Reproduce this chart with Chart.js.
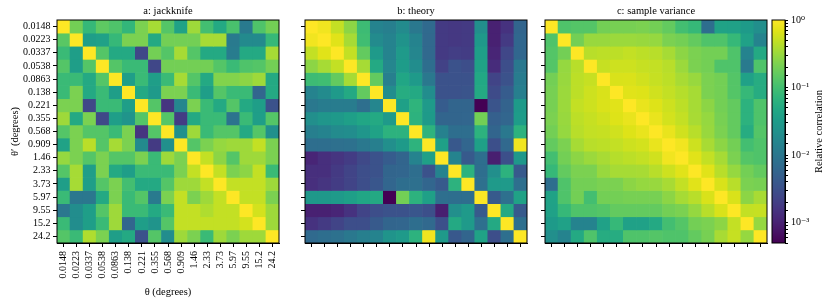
<!DOCTYPE html>
<html>
<head>
<meta charset="utf-8">
<script src="https://cdn.jsdelivr.net/npm/chart.js@4.4.0/dist/chart.umd.min.js"></script>
<style>
    body { margin: 0; background: #fff; }
    #wrap { position: relative; width: 831px; height: 299px; overflow: hidden; }
    #wrap canvas { position: absolute; top: 0; }
</style>
</head>
<body>
<div id="wrap">
    <canvas id="jackknifeChart" width="290" height="299" style="left:0px"></canvas>
    <canvas id="theoryChart" width="250" height="299" style="left:290px"></canvas>
    <canvas id="sampleChart" width="232" height="299" style="left:540px"></canvas>
    <canvas id="colorbarChart" width="64" height="299" style="left:767px"></canvas>
</div>
<script>
// angular bins, used for both axes
const thetaLabels = ['0.0148', '0.0223', '0.0337', '0.0538', '0.0863', '0.138', '0.221', '0.355', '0.568',
    '0.909', '1.46', '2.33', '3.73', '5.97', '9.55', '15.2', '24.2'];

// relative correlation, row = theta' (top to bottom), column = theta
const jackknifeValues = [
    [1, 0.2, 0.08, 0.15, 0.12, 0.075, 0.22, 0.36, 0.13, 0.04, 0.33, 0.1, 0.05, 0.11, 0.011, 0.12, 0.2],
    [0.14, 1, 0.035, 0.038, 0.08, 0.22, 0.22, 0.05, 0.2, 0.2, 0.2, 0.36, 0.36, 0.011, 0.018, 0.018, 0.08],
    [0.085, 0.035, 1, 0.13, 0.05, 0.05, 0.0025, 0.2, 0.13, 0.36, 0.13, 0.05, 0.05, 0.012, 0.05, 0.05, 0.36],
    [0.13, 0.035, 0.13, 1, 0.13, 0.085, 0.085, 0.0025, 0.2, 0.2, 0.2, 0.2, 0.13, 0.085, 0.12, 0.13, 0.2],
    [0.085, 0.085, 0.05, 0.13, 1, 0.035, 0.085, 0.035, 0.085, 0.36, 0.13, 0.05, 0.24, 0.24, 0.27, 0.33, 0.05],
    [0.085, 0.22, 0.05, 0.085, 0.035, 1, 0.05, 0.03, 0.22, 0.22, 0.085, 0.035, 0.13, 0.085, 0.085, 0.006, 0.05],
    [0.22, 0.22, 0.0025, 0.085, 0.085, 0.035, 1, 0.13, 0.0016, 0.016, 0.22, 0.085, 0.05, 0.13, 0.05, 0.035, 0.0033],
    [0.33, 0.05, 0.22, 0.0026, 0.035, 0.025, 0.13, 1, 0.13, 0.0019, 0.05, 0.085, 0.085, 0.009, 0.085, 0.035, 0.13],
    [0.13, 0.22, 0.13, 0.13, 0.085, 0.22, 0.0016, 0.13, 1, 0.022, 0.33, 0.085, 0.13, 0.13, 0.05, 0.13, 0.022],
    [0.04, 0.22, 0.45, 0.13, 0.36, 0.22, 0.018, 0.0018, 0.022, 1, 0.13, 0.22, 0.3, 0.33, 0.33, 0.5, 0.22],
    [0.3, 0.22, 0.13, 0.22, 0.13, 0.13, 0.22, 0.085, 0.33, 0.22, 1, 0.5, 0.27, 0.13, 0.33, 0.33, 0.22],
    [0.13, 0.36, 0.035, 0.22, 0.05, 0.035, 0.085, 0.085, 0.085, 0.22, 0.5, 1, 0.5, 0.22, 0.27, 0.5, 0.085],
    [0.035, 0.36, 0.035, 0.13, 0.22, 0.1, 0.05, 0.05, 0.13, 0.33, 0.33, 0.5, 1, 0.5, 0.5, 0.5, 0.33],
    [0.085, 0.01, 0.01, 0.05, 0.22, 0.085, 0.13, 0.011, 0.22, 0.5, 0.22, 0.33, 0.5, 1, 0.5, 0.5, 0.22],
    [0.01, 0.02, 0.035, 0.13, 0.33, 0.085, 0.085, 0.05, 0.085, 0.5, 0.5, 0.4, 0.5, 0.5, 1, 0.6, 0.33],
    [0.085, 0.02, 0.035, 0.085, 0.33, 0.006, 0.035, 0.025, 0.13, 0.5, 0.5, 0.5, 0.5, 0.5, 0.6, 1, 0.33],
    [0.13, 0.085, 0.4, 0.22, 0.035, 0.05, 0.0033, 0.13, 0.02, 0.33, 0.22, 0.085, 0.33, 0.22, 0.33, 0.33, 1]
];

const theoryValues = [
    [1, 0.86, 0.5, 0.27, 0.09, 0.015, 0.013, 0.019, 0.0105, 0.0068, 0.0018, 0.0017, 0.0018, 0.021, 0.001, 0.0015, 0.0058],
    [0.86, 1, 0.7, 0.36, 0.095, 0.019, 0.015, 0.024, 0.015, 0.0065, 0.0018, 0.0017, 0.0018, 0.028, 0.001, 0.0018, 0.0062],
    [0.5, 0.7, 1, 0.5, 0.16, 0.03, 0.015, 0.03, 0.016, 0.0065, 0.0018, 0.002, 0.0019, 0.035, 0.0011, 0.0025, 0.0062],
    [0.27, 0.36, 0.5, 1, 0.36, 0.05, 0.016, 0.033, 0.02, 0.0077, 0.0022, 0.0033, 0.003, 0.04, 0.0013, 0.003, 0.0105],
    [0.09, 0.095, 0.16, 0.36, 1, 0.16, 0.013, 0.045, 0.03, 0.0105, 0.0033, 0.0033, 0.0033, 0.048, 0.0023, 0.0033, 0.012],
    [0.015, 0.019, 0.03, 0.05, 0.16, 1, 0.02, 0.055, 0.05, 0.02, 0.0033, 0.0033, 0.0035, 0.05, 0.0028, 0.0045, 0.013],
    [0.0105, 0.012, 0.012, 0.012, 0.0078, 0.016, 1, 0.037, 0.07, 0.03, 0.0045, 0.0058, 0.0058, 0.0005, 0.0035, 0.0055, 0.031],
    [0.021, 0.027, 0.029, 0.036, 0.045, 0.05, 0.03, 1, 0.065, 0.031, 0.0058, 0.0058, 0.006, 0.2, 0.005, 0.006, 0.033],
    [0.013, 0.015, 0.019, 0.02, 0.027, 0.04, 0.065, 0.065, 1, 0.068, 0.014, 0.0077, 0.0075, 0.065, 0.0058, 0.0105, 0.065],
    [0.0075, 0.0075, 0.008, 0.0085, 0.0105, 0.013, 0.021, 0.031, 0.068, 1, 0.037, 0.004, 0.006, 0.037, 0.0031, 0.0065, 0.86],
    [0.0011, 0.0014, 0.0016, 0.0019, 0.0026, 0.0033, 0.0045, 0.0058, 0.015, 0.037, 1, 0.015, 0.0042, 0.0077, 0.00095, 0.0031, 0.028],
    [0.0014, 0.0014, 0.0018, 0.0023, 0.003, 0.0033, 0.0058, 0.006, 0.0077, 0.0033, 0.015, 1, 0.065, 0.0077, 0.021, 0.065, 0.0042],
    [0.0014, 0.0016, 0.0019, 0.0023, 0.003, 0.0038, 0.006, 0.0075, 0.008, 0.006, 0.0042, 0.065, 1, 0.008, 0.03, 0.03, 0.0078],
    [0.028, 0.028, 0.03, 0.036, 0.045, 0.05, 0.0005, 0.2, 0.065, 0.037, 0.0078, 0.0077, 0.0077, 1, 0.0042, 0.008, 0.04],
    [0.001, 0.001, 0.0011, 0.0015, 0.0023, 0.003, 0.0033, 0.0033, 0.0038, 0.0031, 0.00095, 0.021, 0.03, 0.0042, 1, 0.05, 0.0042],
    [0.0015, 0.0018, 0.0023, 0.003, 0.003, 0.0042, 0.0058, 0.006, 0.0075, 0.0065, 0.0031, 0.05, 0.03, 0.008, 0.05, 1, 0.0078],
    [0.0068, 0.0075, 0.0085, 0.0105, 0.013, 0.015, 0.025, 0.03, 0.065, 0.86, 0.03, 0.004, 0.0058, 0.04, 0.003, 0.0078, 1]
];

const sampleVarianceValues = [
    [1, 0.12, 0.13, 0.13, 0.2, 0.21, 0.21, 0.22, 0.2, 0.16, 0.1, 0.08, 0.0077, 0.04, 0.038, 0.031, 0.021],
    [0.12, 1, 0.2, 0.31, 0.31, 0.32, 0.32, 0.31, 0.3, 0.22, 0.2, 0.16, 0.12, 0.12, 0.08, 0.038, 0.015],
    [0.13, 0.2, 1, 0.44, 0.46, 0.46, 0.5, 0.46, 0.44, 0.36, 0.27, 0.22, 0.2, 0.2, 0.12, 0.015, 0.05],
    [0.13, 0.3, 0.44, 1, 0.52, 0.56, 0.56, 0.52, 0.5, 0.44, 0.32, 0.22, 0.2, 0.12, 0.12, 0.011, 0.12],
    [0.2, 0.31, 0.46, 0.52, 1, 0.64, 0.65, 0.58, 0.52, 0.46, 0.37, 0.31, 0.22, 0.2, 0.13, 0.038, 0.055],
    [0.21, 0.32, 0.46, 0.56, 0.64, 1, 0.7, 0.68, 0.58, 0.5, 0.43, 0.36, 0.22, 0.2, 0.13, 0.08, 0.055],
    [0.21, 0.32, 0.5, 0.56, 0.65, 0.7, 1, 0.78, 0.68, 0.56, 0.46, 0.36, 0.27, 0.2, 0.16, 0.065, 0.12],
    [0.22, 0.31, 0.46, 0.52, 0.58, 0.68, 0.78, 1, 0.78, 0.6, 0.5, 0.37, 0.3, 0.21, 0.16, 0.065, 0.12],
    [0.2, 0.3, 0.44, 0.5, 0.52, 0.58, 0.68, 0.78, 1, 0.78, 0.58, 0.44, 0.31, 0.22, 0.16, 0.055, 0.13],
    [0.16, 0.22, 0.36, 0.44, 0.46, 0.5, 0.56, 0.6, 0.78, 1, 0.86, 0.56, 0.37, 0.27, 0.2, 0.1, 0.12],
    [0.1, 0.2, 0.27, 0.32, 0.37, 0.43, 0.46, 0.5, 0.58, 0.86, 1, 0.7, 0.5, 0.36, 0.22, 0.13, 0.12],
    [0.08, 0.16, 0.22, 0.22, 0.31, 0.36, 0.36, 0.37, 0.44, 0.56, 0.7, 1, 0.7, 0.44, 0.3, 0.2, 0.16],
    [0.0077, 0.12, 0.2, 0.2, 0.22, 0.22, 0.27, 0.3, 0.31, 0.37, 0.5, 0.7, 1, 0.64, 0.44, 0.22, 0.21],
    [0.04, 0.12, 0.2, 0.1, 0.2, 0.2, 0.21, 0.21, 0.21, 0.27, 0.36, 0.44, 0.64, 1, 0.64, 0.27, 0.37],
    [0.038, 0.08, 0.12, 0.12, 0.13, 0.16, 0.16, 0.16, 0.16, 0.2, 0.22, 0.3, 0.44, 0.64, 1, 0.5, 0.52],
    [0.031, 0.038, 0.015, 0.015, 0.038, 0.08, 0.038, 0.038, 0.05, 0.1, 0.13, 0.2, 0.22, 0.27, 0.5, 1, 0.3],
    [0.021, 0.015, 0.05, 0.12, 0.055, 0.055, 0.12, 0.12, 0.13, 0.12, 0.12, 0.16, 0.21, 0.37, 0.52, 0.3, 1]
];

// colour scale limits (log norm)
const colorMin = 5e-4;
const colorMax = 1;
const colorbarDecades = [1e-3, 1e-2, 1e-1, 1];

// viridis, sampled every 0.05
const viridisStops = ['#440154', '#471365', '#482475', '#463480', '#414487', '#3b528b', '#355f8d',
    '#2f6c8e', '#2a788e', '#25848e', '#21918c', '#1e9c89', '#22a884', '#2fb47c', '#44bf70',
    '#5ec962', '#7ad151', '#9bd93c', '#bddf26', '#dfe318', '#fde725'];

const FONT = "'Liberation Serif', 'DejaVu Serif', serif";
Chart.defaults.font.family = FONT;
Chart.defaults.font.size = 10;
Chart.defaults.color = '#000';

function hexToRgb(h) {
    return [parseInt(h.slice(1, 3), 16), parseInt(h.slice(3, 5), 16), parseInt(h.slice(5, 7), 16)];
}

function viridis(t) {
    t = Math.min(1, Math.max(0, t));
    const pos = t * (viridisStops.length - 1);
    const i = Math.min(viridisStops.length - 2, Math.floor(pos));
    const f = pos - i;
    const a = hexToRgb(viridisStops[i]);
    const b = hexToRgb(viridisStops[i + 1]);
    const c = a.map((v, k) => Math.round(v + (b[k] - v) * f));
    return 'rgb(' + c.join(',') + ')';
}

function cellColor(v) {
    const lo = Math.log10(colorMin), hi = Math.log10(colorMax);
    return viridis((Math.log10(v) - lo) / (hi - lo));
}

// black frame round the plot area + title centred over it
const framePlugin = {
    id: 'panelFrame',
    afterDraw(chart, args, opts) {
        const {ctx, chartArea} = chart;
        ctx.save();
        ctx.strokeStyle = '#000';
        ctx.lineWidth = 1;
        ctx.strokeRect(chartArea.left, chartArea.top, chartArea.right - chartArea.left, chartArea.bottom - chartArea.top);
        ctx.fillStyle = '#000';
        ctx.font = '10.5px ' + FONT;
        ctx.textAlign = 'center';
        ctx.textBaseline = 'middle';
        if (opts.text) {
            ctx.fillText(opts.text, (chartArea.left + chartArea.right) / 2, 11.5);
        }
        if (opts.sideLabel) {
            ctx.translate(opts.sideLabel.x, (chartArea.top + chartArea.bottom) / 2);
            ctx.rotate(-Math.PI / 2);
            ctx.fillText(opts.sideLabel.text, 0, 0);
        }
        ctx.restore();
    }
};

function makeHeatmap(canvasId, title, values, yWidth, rightPad, showLabels) {
    const ctx = document.getElementById(canvasId).getContext('2d');

    // one stacked dataset per row, each cell one unit tall
    const datasets = values.map((row, r) => ({
        label: thetaLabels[r],
        data: row.map(() => 1),
        backgroundColor: row.map(cellColor),
        borderWidth: 0,
        barPercentage: 1,
        categoryPercentage: 1
    }));

    new Chart(ctx, {
        type: 'bar',
        data: { labels: thetaLabels, datasets: datasets },
        options: {
            responsive: false,
            animation: false,
            layout: { padding: { top: 20, right: rightPad, left: 0, bottom: 0 } },
            scales: {
                x: {
                    stacked: true,
                    offset: true,
                    grid: { display: true, offset: false, drawOnChartArea: false, tickLength: 4, color: '#000' },
                    border: { display: true, color: '#000', width: 1 },
                    ticks: { display: showLabels, autoSkip: false, minRotation: 90, maxRotation: 90, padding: 4 },
                    title: { display: showLabels, text: 'θ (degrees)', font: { size: 10.5 }, padding: { top: 0, bottom: 0 } },
                    afterFit: (scale) => { scale.height = 56; }
                },
                y: {
                    type: 'linear',
                    stacked: true,
                    reverse: true,
                    min: 0,
                    max: thetaLabels.length,
                    afterBuildTicks: (axis) => {
                        axis.ticks = thetaLabels.map((_, i) => ({ value: i + 0.5 }));
                    },
                    grid: { display: true, drawOnChartArea: false, tickLength: 4, color: '#000' },
                    border: { display: true, color: '#000', width: 1 },
                    ticks: {
                        display: showLabels,
                        autoSkip: false,
                        padding: 2.5,
                        callback: (value, index) => thetaLabels[index]
                    },
                    title: { display: showLabels, text: 'θ′ (degrees)', font: { size: 10.5 }, padding: { top: 9, bottom: 0 } },
                    afterFit: (scale) => { scale.width = yWidth; }
                }
            },
            plugins: {
                legend: { display: false },
                tooltip: { enabled: false },
                panelFrame: { text: title }
            }
        },
        plugins: [framePlugin]
    });
}

function superscript(n) {
    const map = { '-': '⁻', '0': '⁰', '1': '¹', '2': '²', '3': '³', '4': '⁴' };
    return String(n).split('').map(ch => map[ch]).join('');
}

function makeColorbar() {
    const ctx = document.getElementById('colorbarChart').getContext('2d');
    new Chart(ctx, {
        type: 'bar',
        data: {
            labels: ['cb'],
            datasets: [{
                data: [[colorMin, colorMax]],
                borderWidth: 0,
                barPercentage: 1,
                categoryPercentage: 1,
                backgroundColor: (c) => {
                    const area = c.chart.chartArea;
                    if (!area) return '#21918c';
                    const g = c.chart.ctx.createLinearGradient(0, area.bottom, 0, area.top);
                    viridisStops.forEach((col, i) => g.addColorStop(i / (viridisStops.length - 1), col));
                    return g;
                }
            }]
        },
        options: {
            responsive: false,
            animation: false,
            layout: { padding: { top: 20, bottom: 56, left: 5, right: 0 } },
            scales: {
                x: { display: false, offset: true },
                y: {
                    type: 'logarithmic',
                    position: 'right',
                    min: colorMin,
                    max: colorMax,
                    grid: { display: true, drawOnChartArea: false, tickLength: 3, color: '#000' },
                    border: { display: true, color: '#000' },
                    ticks: {
                        autoSkip: false,
                        padding: 3,
                        callback: (value) => {
                            const e = Math.log10(value);
                            if (Math.abs(e - Math.round(e)) > 1e-6) return '';
                            if (!colorbarDecades.some(d => Math.abs(Math.log10(d) - e) < 1e-6)) return '';
                            return '10' + superscript(Math.round(e));
                        }
                    },
                    afterFit: (scale) => { scale.width = 46; }
                }
            },
            plugins: {
                legend: { display: false },
                tooltip: { enabled: false },
                panelFrame: { sideLabel: { text: 'Relative correlation', x: 52 } }
            }
        },
        plugins: [framePlugin]
    });
}

makeHeatmap('jackknifeChart', 'a: jackknife', jackknifeValues, 57, 11, true);
makeHeatmap('theoryChart', 'b: theory', theoryValues, 15, 13, false);
makeHeatmap('sampleChart', 'c: sample variance', sampleVarianceValues, 5, 5, false);
makeColorbar();
</script>
</body>
</html>
